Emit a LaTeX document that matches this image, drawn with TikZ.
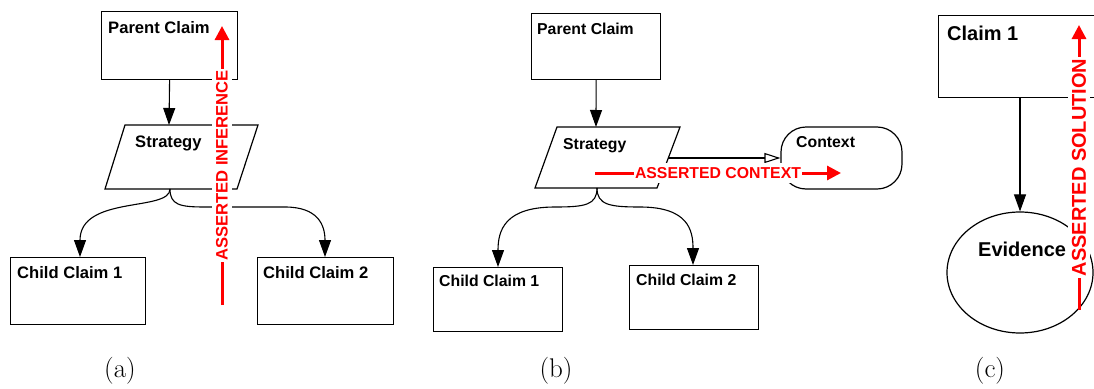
\documentclass[tikz,border=0pt]{standalone}
\usepackage{fontspec}
\newfontfamily\hv{Liberation Sans}
\usetikzlibrary{arrows.meta,shapes.geometric}
\tikzset{
  box/.style={draw, rectangle, line width=1.2pt, inner sep=0pt, anchor=north west},
  txta/.style={font=\hv\bfseries\fontsize{16.6}{18}\selectfont, anchor=base west, inner sep=0pt},
  txtb/.style={font=\hv\bfseries\fontsize{15.8}{18}\selectfont, anchor=base west, inner sep=0pt},
  txtc/.style={font=\hv\bfseries\fontsize{20}{22}\selectfont, anchor=base west, inner sep=0pt},
  arr/.style={line width=1.1pt, -{Triangle[length=17pt,width=12pt]}},
  openarr/.style={line width=1.1pt, -{Triangle[open,length=16pt,width=10pt]}},
  redarr/.style={draw=red, line width=3pt, -{Triangle[length=14pt,width=14pt]}},
  redlbl/.style={text=red, fill=white, inner xsep=1.5pt, inner ysep=4pt},
  sublbl/.style={font=\fontsize{27}{31}\selectfont, inner sep=0pt},
}
\begin{document}
\begin{tikzpicture}[x=1pt,y=-1pt]
\useasboundingbox (0,0) rectangle (1094,388);
% ---------------- (a)
\node[box, minimum width=136pt, minimum height=68pt] (pcA) at (101,11) {};
\node[txta] (pcAt) at (108,33) {Parent Claim};
\draw[line width=1.2pt] (125,125) -- (258,125) -- (237,189) -- (105,189) -- cycle;
\coordinate (sAt) at (169,125);
\coordinate (sAb) at (170,189);
\node[txta] (sAtx) at (135,147) {Strategy};
\node[box, minimum width=135pt, minimum height=67pt] (c1A) at (10,257) {};
\node[txta] (c1At) at (17,278) {Child Claim 1};
\node[box, minimum width=136pt, minimum height=67pt] (c2A) at (257,257) {};
\node[txta] (c2At) at (263,278) {Child Claim 2};
\coordinate (c1Atop) at (80,257);
\coordinate (c2Atop) at (325,257);
\draw[arr] (pcA.south) -- (sAt);
\draw[arr] (sAb) .. controls (170,212) and (80,195) .. (c1Atop);
\draw[arr] (sAb) .. controls (170,205) and (180,207) .. (205,207) -- (285,207) .. controls (318,207) and (325,225) .. (c2Atop);
\coordinate (rA0) at (222,305);
\coordinate (rA1) at (222,26);
\draw[redarr] (rA0) -- (rA1);
\node[redlbl, font=\hv\bfseries\fontsize{16.6}{18}\selectfont, rotate=90] (rAl) at (222,165.5) {ASSERTED INFERENCE};
\node[sublbl] (la) at (120,371) {(a)};
% ---------------- (b)
\node[box, minimum width=129pt, minimum height=66pt] (pcB) at (531,13) {};
\node[txtb] (pcBt) at (537,34) {Parent Claim};
\draw[line width=1.2pt] (557,127) -- (680,127) -- (657,188) -- (535,188) -- cycle;
\coordinate (sBt) at (596,127);
\coordinate (sBb) at (597,188);
\coordinate (sBr) at (668,158);
\node[txtb] (sBtx) at (563,149) {Strategy};
\node[draw, line width=1.2pt, rounded corners=25pt, minimum width=121pt, minimum height=62pt, inner sep=0pt] (ctx) at (841.5,158) {};
\node[txtb] (ctxt) at (796,147) {Context};
\node[box, minimum width=129pt, minimum height=64pt] (c1B) at (433,267) {};
\node[txtb] (c1Bt) at (439,286) {Child Claim 1};
\node[box, minimum width=129pt, minimum height=64pt] (c2B) at (629,265) {};
\node[txtb] (c2Bt) at (636,285) {Child Claim 2};
\coordinate (c1Btop) at (498,267);
\coordinate (c2Btop) at (693,265);
\draw[arr] (pcB.south) -- (sBt);
\draw[openarr] (sBr) -- (ctx.west);
\draw[arr] (sBb) .. controls (597,205) and (585,207) .. (555,207) .. controls (505,207) and (498,230) .. (c1Btop);
\draw[arr] (sBb) .. controls (597,205) and (610,207) .. (640,207) .. controls (688,207) and (693,230) .. (c2Btop);
\coordinate (rB0) at (595,173);
\coordinate (rB1) at (841,173);
\draw[redarr] (rB0) -- (rB1);
\node[redlbl, font=\hv\bfseries\fontsize{15.8}{18}\selectfont] (rBl) at (718,173) {ASSERTED CONTEXT};
\node[sublbl] (lb) at (556,371) {(b)};
% ---------------- (c)
\node[box, minimum width=162pt, minimum height=82pt] (cl1) at (938,15) {};
\node[txtc] (cl1t) at (947,40) {Claim 1};
\node[draw, ellipse, line width=1.2pt, minimum width=146pt, minimum height=121pt, inner sep=0pt] (ev) at (1020,272.5) {};
\node[txtc] (evt) at (978,256) {Evidence};
\draw[arr] (cl1.south -| ev.north) -- (ev.north);
\coordinate (rC0) at (1079,310);
\coordinate (rC1) at (1079,25);
\draw[redarr] (rC0) -- (rC1);
\node[redlbl, font=\hv\bfseries\fontsize{20}{22}\selectfont, rotate=90] (rCl) at (1079,167.5) {ASSERTED SOLUTION};
\node[sublbl] (lc) at (990,371) {(c)};
\end{tikzpicture}
\end{document}
